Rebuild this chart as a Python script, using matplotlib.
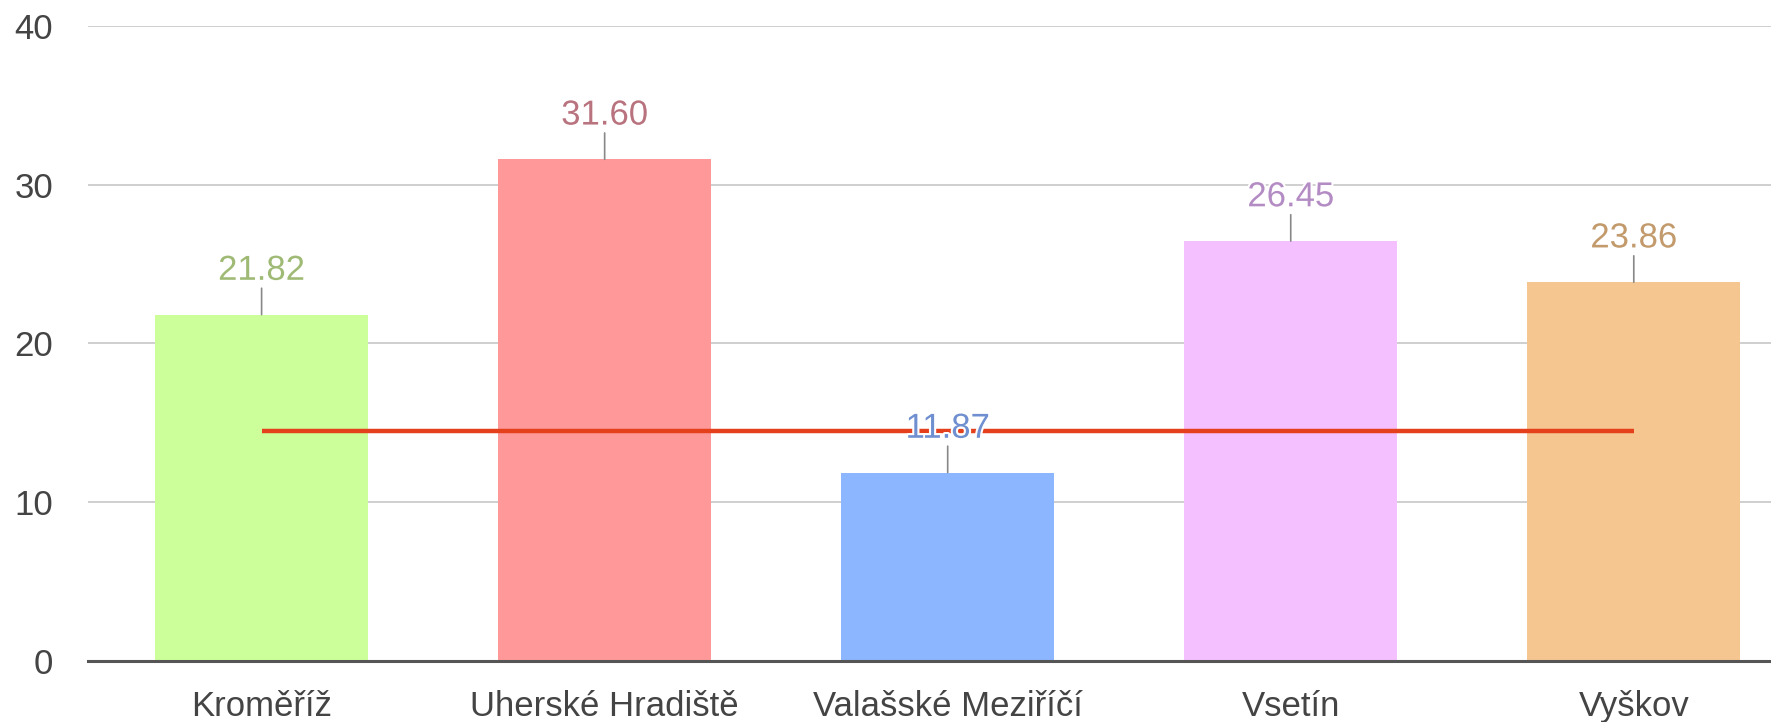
import matplotlib
matplotlib.use('Agg')
import matplotlib.pyplot as plt
import matplotlib.patheffects as pe
import numpy as np

# data
districts = ['Kroměříž', 'Uherské Hradiště', 'Valašské Meziříčí', 'Vsetín', 'Vyškov']
values = [21.82, 31.60, 11.87, 26.45, 23.86]
reference_value = 14.5
bar_colors = ['#ccff99', '#ff9999', '#8cb6ff', '#f4c0ff', '#f5c68f']
label_colors = ['#9fba74', '#b8737e', '#6f8fd0', '#b48cc4', '#c29a6c']
y_ticks = [0, 10, 20, 30, 40]

plt.rcParams['font.family'] = ['Liberation Sans', 'DejaVu Sans']

fig = plt.figure(figsize=(17.71, 7.22), dpi=100)
ax = fig.add_axes([0.0497, 0.0845, 0.9503, 0.8795])

x = np.arange(len(districts))
ax.bar(x, values, width=0.62, color=bar_colors, zorder=2)

# reference line from first to last bar centre
ax.plot([x[0], x[-1]], [reference_value, reference_value], color='#e4401c',
        linewidth=3.2, solid_capstyle='butt', zorder=3)

for xi, v, c in zip(x, values, label_colors):
    # leader line
    ax.annotate('', xy=(xi, v), xytext=(0, 19), textcoords='offset points',
                arrowprops=dict(arrowstyle='-', color='#888888', lw=1.2,
                                shrinkA=0, shrinkB=0), zorder=4)
    ax.annotate(f'{v:.2f}', xy=(xi, v), xytext=(0, 20), textcoords='offset points',
                ha='center', va='bottom', fontsize=25, color=c, zorder=5,
                path_effects=[pe.withStroke(linewidth=3, foreground='white')])

ax.set_xlim(-0.506, 4.40)
ax.set_ylim(0, 40)
ax.set_yticks(y_ticks)
ax.set_xticks(x)
ax.set_xticklabels(districts)
ax.tick_params(axis='both', length=0, labelsize=25, labelcolor='#444444')
ax.tick_params(axis='y', pad=25)
ax.tick_params(axis='x', pad=21)

ax.grid(axis='y', color='#cccccc', linewidth=1.3, zorder=0)
ax.set_axisbelow(True)
for s in ['top', 'right', 'left']:
    ax.spines[s].set_visible(False)
ax.spines['bottom'].set_color('#555555')
ax.spines['bottom'].set_linewidth(2.2)
ax.spines['bottom'].set_zorder(6)

fig.savefig('out.png', dpi=100)
